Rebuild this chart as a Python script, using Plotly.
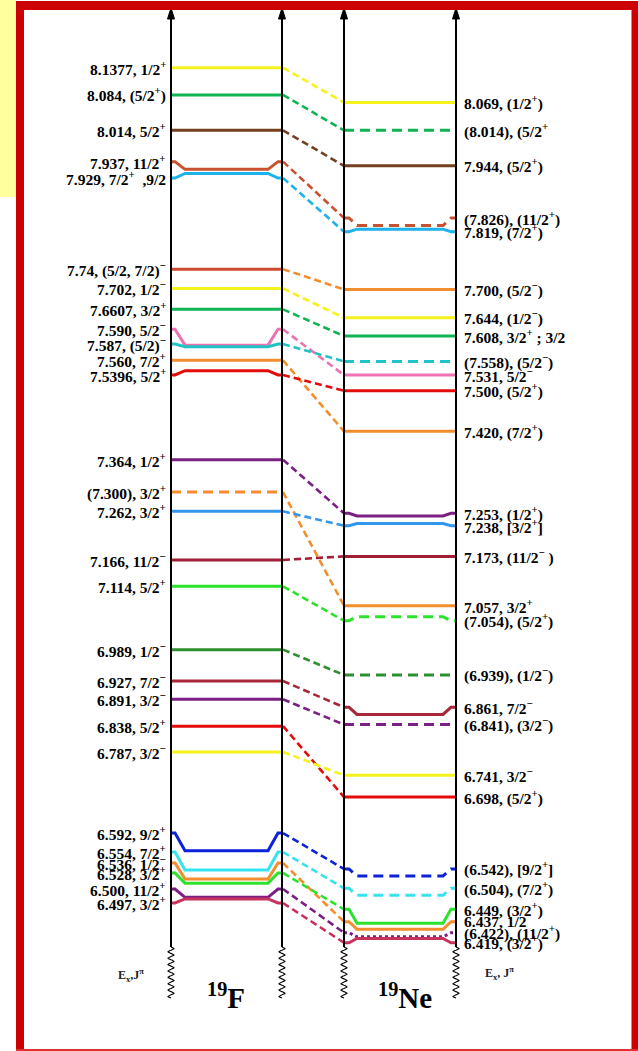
import numpy as np
import plotly.graph_objects as go

# ---------------- level data ----------------
# 19F levels (excitation energy text as printed, spin-parity)
F_EX = ["8.1377", "8.084", "8.014", "7.937", "7.929", "7.74", "7.702", "7.6607",
        "7.590", "7.587", "7.560", "7.5396", "7.364", "(7.300)", "7.262", "7.166",
        "7.114", "6.989", "6.927", "6.891", "6.838", "6.787", "6.592", "6.554",
        "6.536", "6.528", "6.500", "6.497"]
F_JPI = ["1/2<sup>+</sup>", "(5/2<sup>+</sup>)", "5/2<sup>+</sup>", "11/2<sup>+</sup>",
         "7/2<sup>+</sup>  ,9/2", "(5/2, 7/2)<sup>−</sup>", "1/2<sup>−</sup>", "3/2<sup>+</sup>",
         "5/2<sup>−</sup>", "(5/2)<sup>−</sup>", "7/2<sup>+</sup>", "5/2<sup>+</sup>",
         "1/2<sup>+</sup>", "3/2<sup>+</sup>", "3/2<sup>+</sup>", "11/2<sup>−</sup>",
         "5/2<sup>+</sup>", "1/2<sup>−</sup>", "7/2<sup>−</sup>", "3/2<sup>−</sup>",
         "5/2<sup>+</sup>", "3/2<sup>−</sup>", "9/2<sup>+</sup>", "7/2<sup>+</sup>",
         "1/2<sup>−</sup>", "3/2<sup>+</sup>", "11/2<sup>+</sup>", "3/2<sup>+</sup>"]

# 19Ne analog levels, listed in the same order as their 19F partners
NE_EX = ["8.069", "(8.014)", "7.944", "(7.826)", "7.819", "7.700", "7.644", "7.608",
         "7.531", "(7.558)", "7.420", "7.500", "7.253", "7.057", "7.238", "7.173",
         "(7.054)", "(6.939)", "6.861", "(6.841)", "6.698", "6.741", "(6.542)", "(6.504)",
         "6.437", "6.449", "(6.422)", "6.419"]
NE_JPI = ["(1/2<sup>+</sup>)", "(5/2<sup>+</sup>", "(5/2<sup>+</sup>)", "(11/2<sup>+</sup>)",
          "(7/2<sup>+</sup>)", "(5/2<sup>−</sup>)", "(1/2<sup>−</sup>)", "3/2<sup>+</sup> ; 3/2",
          "5/2<sup>−</sup>", "(5/2<sup>−</sup>)", "(7/2<sup>+</sup>)", "(5/2<sup>+</sup>)",
          "(1/2<sup>+</sup>)", "3/2<sup>+</sup>", "[3/2<sup>+</sup>]", "(11/2<sup>−</sup> )",
          "(5/2<sup>+</sup>)", "(1/2<sup>−</sup>)", "7/2<sup>−</sup>", "(3/2<sup>−</sup>)",
          "(5/2<sup>+</sup>)", "3/2<sup>−</sup>", "[9/2<sup>+</sup>]", "(7/2<sup>+</sup>)",
          "1/2", "(3/2<sup>+</sup>)", "(11/2<sup>+</sup>)", "(3/2<sup>+</sup>)"]

# ---------------- styling ----------------
YEL, GRN, BRN, BRK, SKY = "#F5F21C", "#10B455", "#74401F", "#C9522E", "#1DB2EA"
ORG, PNK, TEAL, RED, PUR = "#F28E2E", "#EE72B2", "#22C3C6", "#E60A0A", "#7C1F84"
BLU, DRED, LGRN, DGRN, MAR = "#3497EE", "#A21E34", "#2CE22C", "#2F8E30", "#A8283A"
NBLU, CYAN, CRIM = "#0B22DA", "#36E2F0", "#C8335E"

F_COLOR = [YEL, GRN, BRN, BRK, SKY, "#CC4A2E", YEL, GRN, PNK, TEAL, ORG, RED, PUR, ORG,
           BLU, DRED, LGRN, DGRN, MAR, PUR, RED, YEL, NBLU, CYAN, ORG, LGRN, PUR, CRIM]
NE_COLOR = [YEL, GRN, BRN, BRK, SKY, ORG, YEL, GRN, PNK, TEAL, ORG, RED, PUR, ORG,
            BLU, DRED, LGRN, DGRN, MAR, PUR, RED, YEL, NBLU, CYAN, ORG, LGRN, PUR, CRIM]

# Label spreading: ends of a level (and its label) are moved by this many MeV
# so that neighbouring labels do not collide; the middle stays at the true energy.
F_SHIFT = [0, 0, 0, 0.0152, -0.0090, 0, 0, 0, 0.0313, 0.0053, 0, -0.0085, 0, 0, 0, 0,
           0, 0, 0, 0, 0, 0, 0.0350, 0.0355, 0.0318, 0.0201, 0.0165, -0.0081]
NE_SHIFT = [0, 0, 0, 0.0150, -0.0050, 0, 0, 0, 0, 0, 0, 0, 0.0051, 0.0187, -0.0044, 0,
            -0.0079, 0, 0.0142, 0, 0, 0, 0.0140, 0.0139, 0.0150, 0.0274, 0.0082, -0.0085]
NE_STRAIGHT = {13}   # level drawn flat at its label position

LONG_DASH = "10px,6px"
DOT = "3px,3px"


def dash_of(ex):
    return LONG_DASH if ex.startswith("(") else "solid"


def energy(ex):
    return float(ex.strip("()"))


NE_DASH = [dash_of(s) for s in NE_EX]
NE_DASH[NE_EX.index("(6.422)")] = DOT
F_DASH = [dash_of(s) for s in F_EX]

# ---------------- geometry ----------------
W, H = 638, 1051
PX_PER_MEV = 506.6
E_TOP = 8.1377 + 67.7 / PX_PER_MEV


def e_at(py):
    """Energy coordinate that sits py pixels below the top of the page."""
    return E_TOP - py / PX_PER_MEV


F_X = (171, 282)
NE_X = (344, 456)
FONT = "Liberation Serif"
LABEL_SIZE = 15.5

fig = go.Figure()


def level_trace(x0, x1, e, shift, color, dash, straight=False, flat=4, slope=10):
    end = e + shift
    if shift == 0 or straight:
        xs, ys = [x0, x1], [end, end]
    else:
        xs = [x0, x0 + flat, x0 + flat + slope, x1 - flat - slope, x1 - flat, x1]
        ys = [end, end, e, e, end, end]
    fig.add_trace(go.Scatter(x=xs, y=ys, mode="lines",
                             line=dict(color=color, width=3, dash=dash),
                             hoverinfo="skip", showlegend=False))


annotations = []
for i in range(len(F_EX)):
    ef, en = energy(F_EX[i]), energy(NE_EX[i])
    f_end, n_end = ef + F_SHIFT[i], en + NE_SHIFT[i]
    # dashed line linking the analog pair
    fig.add_trace(go.Scatter(x=[F_X[1] + 1, NE_X[0]], y=[f_end, n_end], mode="lines",
                             line=dict(color=NE_COLOR[i], width=2.6, dash="7px,4px"),
                             hoverinfo="skip", showlegend=False))
    level_trace(F_X[0], F_X[1], ef, F_SHIFT[i], F_COLOR[i], F_DASH[i], flat=4, slope=10)
    level_trace(NE_X[0], NE_X[1], en, NE_SHIFT[i], NE_COLOR[i], NE_DASH[i],
                straight=i in NE_STRAIGHT, flat=5, slope=8)
    annotations.append(dict(x=168, y=f_end, xref="x", yref="y", xanchor="right",
                            yanchor="middle", showarrow=False,
                            text=f"<b>{F_EX[i]}, {F_JPI[i]}</b>",
                            font=dict(family=FONT, size=LABEL_SIZE, color="black")))
    annotations.append(dict(x=462, y=n_end, xref="x", yref="y", xanchor="left",
                            yanchor="middle", showarrow=False,
                            text=f"<b>{NE_EX[i]}, {NE_JPI[i]}</b>",
                            font=dict(family=FONT, size=LABEL_SIZE, color="black")))

# energy axes with arrowheads and broken (wavy) lower ends
for xa in (*F_X, *NE_X):
    fig.add_trace(go.Scatter(x=[xa, xa], y=[e_at(947), e_at(14)], mode="lines",
                             line=dict(color="black", width=2),
                             hoverinfo="skip", showlegend=False))
    fig.add_trace(go.Scatter(x=[xa - 3.5, xa, xa + 3.5, xa - 3.5],
                             y=[e_at(19), e_at(8), e_at(19), e_at(19)],
                             mode="lines", fill="toself", fillcolor="black",
                             line=dict(color="black", width=1),
                             hoverinfo="skip", showlegend=False))
    t = np.linspace(0, 1, 161)
    fig.add_trace(go.Scatter(x=xa + 3 * np.sin(t * 8 * 2 * np.pi),
                             y=e_at(947 + 51 * t), mode="lines",
                             line=dict(color="black", width=1.1),
                             hoverinfo="skip", showlegend=False))

annotations += [
    dict(x=131, y=e_at(975), text="<b>E<sub>x</sub>,J<sup>π</sup></b>",
         font=dict(family=FONT, size=12, color="#222")),
    dict(x=499, y=e_at(973), text="<b>E<sub>x</sub>, J<sup>π</sup></b>",
         font=dict(family=FONT, size=12, color="#222")),
    dict(x=226, y=e_at(996), text="<b><sup>19</sup>F</b>",
         font=dict(family=FONT, size=29, color="black")),
    dict(x=405, y=e_at(996), text="<b><sup>19</sup>Ne</b>",
         font=dict(family=FONT, size=29, color="black")),
]
for a in annotations[-4:]:
    a.update(xref="x", yref="y", showarrow=False, xanchor="center", yanchor="middle")

RED_FRAME = "#CC0000"
shapes = [
    dict(type="rect", xref="x", yref="y", x0=0, x1=16, y0=e_at(197), y1=e_at(0),
         fillcolor="#FFFF9C", line=dict(width=0), layer="below"),
    dict(type="rect", xref="x", yref="y", x0=16, x1=638, y0=e_at(10), y1=e_at(1),
         fillcolor=RED_FRAME, line=dict(width=0)),
    dict(type="rect", xref="x", yref="y", x0=16, x1=24, y0=e_at(1051), y1=e_at(1),
         fillcolor=RED_FRAME, line=dict(width=0)),
    dict(type="rect", xref="x", yref="y", x0=631.5, x1=638, y0=e_at(1051), y1=e_at(1),
         fillcolor=RED_FRAME, line=dict(width=0)),
    dict(type="rect", xref="x", yref="y", x0=16, x1=638, y0=e_at(1051), y1=e_at(1049),
         fillcolor="#E03030", line=dict(width=0)),
]

fig.update_layout(
    width=W, height=H, margin=dict(l=0, r=0, t=0, b=0),
    paper_bgcolor="white", plot_bgcolor="white",
    xaxis=dict(range=[0, W], visible=False, fixedrange=True),
    yaxis=dict(range=[e_at(H), e_at(0)], visible=False, fixedrange=True),
    annotations=annotations, shapes=shapes, hovermode=False, showlegend=False,
)

fig.write_html("out.html", config={"displayModeBar": False})
